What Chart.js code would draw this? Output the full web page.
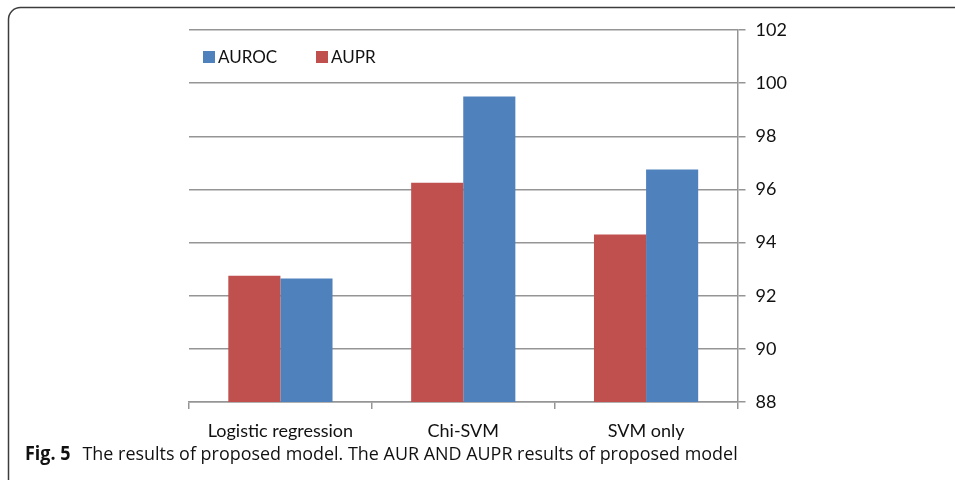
<!DOCTYPE html>
<html>
<head>
<meta charset="utf-8">
<script src="https://cdn.jsdelivr.net/npm/chart.js@4"></script>
<style>
html, body { margin: 0; padding: 0; background: #fff; }
#wrap { width: 955px; height: 480px; position: relative; }
</style>
</head>
<body>
<div id="wrap"><canvas id="myChart" width="955" height="480"></canvas></div>
<script>
// data
const categories = ['Logistic regression', 'Chi-SVM', 'SVM only'];
const seriesNames = ['AUPR', 'AUROC'];
const auprValues = [92.75, 96.25, 94.3];
const aurocValues = [92.65, 99.5, 96.75];
const yTicks = [88, 90, 92, 94, 96, 98, 100, 102];
const figLabel = 'Fig. 5';
const captionText = 'The results of proposed model. The AUR AND AUPR results of proposed model';

const gridColor = '#959595';
const textColor = '#111';
const chartFont = 'Lato, "Open Sans", sans-serif';

var ctx = document.getElementById('myChart').getContext('2d');

// white page, rounded frame and the caption underneath
const frameCaption = {
    id: 'frameCaption',
    beforeDraw(chart) {
        const c = chart.ctx;
        c.save();
        c.fillStyle = '#fff';
        c.fillRect(0, 0, chart.width, chart.height);
        c.restore();
    },
    afterDraw(chart) {
        const c = chart.ctx;
        c.save();
        c.strokeStyle = '#3c3c3c';
        c.lineWidth = 1.5;
        c.beginPath();
        c.roundRect(8.5, 7.5, 1000, 490, 12);
        c.stroke();

        // caption squeezed into the width it takes in the figure
        const x0 = 25, x1 = 737, y = 455;
        c.font = 'bold 19px "Open Sans", sans-serif';
        const w1 = c.measureText(figLabel).width;
        c.font = '19px "Open Sans", sans-serif';
        const gap = 12;
        const w2 = c.measureText(captionText).width;
        const k = (x1 - x0) / (w1 + gap + w2);
        c.translate(x0, y);
        c.scale(k, 1);
        c.fillStyle = '#111';
        c.textBaseline = 'middle';
        c.font = 'bold 19px "Open Sans", sans-serif';
        c.fillText(figLabel, 0, 0);
        c.font = '19px "Open Sans", sans-serif';
        c.fillText(captionText, w1 + gap / k, 0);
        c.restore();
    }
};

// legend sits inside the plot, AUROC first
const innerLegend = {
    id: 'innerLegend',
    afterDraw(chart) {
        const c = chart.ctx;
        const items = chart.data.datasets.slice().reverse();
        let x = 203;
        c.save();
        c.font = '17px ' + chartFont;
        c.textBaseline = 'middle';
        items.forEach(ds => {
            c.fillStyle = ds.backgroundColor;
            c.fillRect(x, 51, 12, 12);
            c.fillStyle = textColor;
            c.fillText(ds.label, x + 15, 57.5);
            x += 113;
        });
        c.restore();
    }
};

new Chart(ctx, {
    type: 'bar',
    data: {
        labels: categories,
        datasets: [{
            label: seriesNames[0],
            data: auprValues,
            backgroundColor: '#C0504D'
        }, {
            label: seriesNames[1],
            data: aurocValues,
            backgroundColor: '#4F81BD'
        }]
    },
    options: {
        responsive: false,
        animation: false,
        layout: {padding: {left: 189, top: 30, right: 0, bottom: 0}},
        plugins: {
            legend: {display: false},
            tooltip: {enabled: false}
        },
        datasets: {
            bar: {categoryPercentage: 0.57, barPercentage: 1.0}
        },
        scales: {
            x: {
                grid: {offset: true, drawOnChartArea: false, tickLength: 7, color: gridColor, lineWidth: 1.5},
                border: {color: gridColor, width: 1.5},
                ticks: {font: {family: chartFont, size: 18}, color: textColor, padding: 11, maxRotation: 0},
                afterFit(scale) { scale.height = 78; }
            },
            y: {
                position: 'right',
                min: yTicks[0],
                max: yTicks[yTicks.length - 1],
                ticks: {stepSize: yTicks[1] - yTicks[0], font: {family: chartFont, size: 18}, color: textColor, padding: 10},
                grid: {color: gridColor, lineWidth: 1.5, tickLength: 8},
                border: {color: gridColor, width: 1.5},
                afterFit(scale) { scale.width = 217.5; }
            }
        }
    },
    plugins: [frameCaption, innerLegend]
});
</script>
</body>
</html>
